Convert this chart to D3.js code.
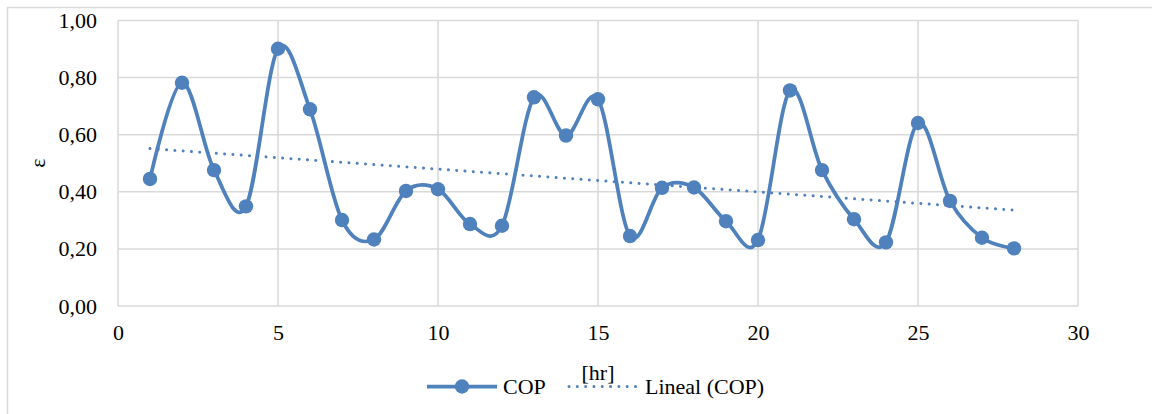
<!DOCTYPE html>
<html>
<head>
<meta charset="utf-8">
<script src="https://cdn.jsdelivr.net/npm/d3@7"></script>
<style>
  html, body { margin: 0; padding: 0; background: #fff; }
  svg { display: block; }
</style>
</head>
<body>
<svg id="chart" width="1152" height="414"></svg>
<script>
// Hourly COP readings (hour 1..28)
const hours = [1,2,3,4,5,6,7,8,9,10,11,12,13,14,15,16,17,18,19,20,21,22,23,24,25,26,27,28];
const cop = [0.445,0.782,0.476,0.349,0.901,0.689,0.301,0.233,0.403,0.409,
             0.287,0.281,0.731,0.597,0.724,0.245,0.414,0.415,0.297,0.231,
             0.755,0.476,0.304,0.223,0.641,0.368,0.239,0.202];
const xTicks = [0,5,10,15,20,25,30];
const yTicks = [0,0.2,0.4,0.6,0.8,1.0];
const seriesName = "COP";
const trendName = "Lineal (COP)";
const xTitle = "[hr]";
const yTitle = "ε";

const blue = "#4f81bd";
const grid = "#d9d9d9";
const serif = '"Liberation Serif", "Times New Roman", Tinos, serif';
const fontSize = "22px";

const svg = d3.select("#chart");

// outer chart frame (only its left and top edges fall inside the view)
svg.append("rect")
  .attr("x", 7.5).attr("y", 7.5)
  .attr("width", 1160).attr("height", 420)
  .attr("fill", "none").attr("stroke", grid).attr("stroke-width", 1.5);

const x = d3.scaleLinear().domain([0, 30]).range([118, 1078]);
const y = d3.scaleLinear().domain([0, 1]).range([306, 20.5]);

const locale = d3.formatLocale({ decimal: ",", thousands: ".", grouping: [3], currency: ["", ""] });
const fmtY = locale.format(".2f");

// gridlines
svg.append("g").selectAll("line").data(yTicks).join("line")
  .attr("x1", x(0)).attr("x2", x(30))
  .attr("y1", d => y(d)).attr("y2", d => y(d))
  .attr("stroke", grid).attr("stroke-width", 1.5);
svg.append("g").selectAll("line").data(xTicks).join("line")
  .attr("x1", d => x(d)).attr("x2", d => x(d))
  .attr("y1", y(0)).attr("y2", y(1))
  .attr("stroke", grid).attr("stroke-width", 1.5);

// axes (labels only, lines come from the grid)
function styleAxis(g) {
  g.attr("font-family", null).attr("font-size", null);
  g.select(".domain").remove();
  g.selectAll("text")
    .style("font-family", serif).style("font-size", fontSize).attr("fill", "#000");
}
const yAxis = d3.axisLeft(y).tickValues(yTicks).tickFormat(fmtY).tickSize(0).tickPadding(21);
svg.append("g").attr("transform", `translate(${x(0)},0)`).call(yAxis).call(styleAxis);

const xAxis = d3.axisBottom(x).tickValues(xTicks).tickFormat(d3.format("d")).tickSize(0).tickPadding(18);
svg.append("g").attr("transform", `translate(0,${y(0)})`).call(xAxis).call(styleAxis);

// axis titles
svg.append("text")
  .attr("transform", `translate(37,163) rotate(-90)`)
  .attr("text-anchor", "middle").attr("dy", "0.35em")
  .style("font-family", serif).style("font-size", fontSize).text(yTitle);
svg.append("text")
  .attr("x", (x(0) + x(30)) / 2).attr("y", 380)
  .attr("text-anchor", "middle")
  .style("font-family", serif).style("font-size", fontSize).text(xTitle);

// linear trendline (least squares)
const n = hours.length;
const mx = d3.mean(hours), my = d3.mean(cop);
const slope = d3.sum(hours, (h, i) => (h - mx) * (cop[i] - my)) / d3.sum(hours, h => (h - mx) ** 2);
const intercept = my - slope * mx;
const trendX = [hours[0], hours[n - 1]];
svg.append("path")
  .datum(trendX)
  .attr("d", d3.line().x(d => x(d)).y(d => y(intercept + slope * d)))
  .attr("fill", "none").attr("stroke", blue).attr("stroke-width", 3)
  .attr("stroke-linecap", "round").attr("stroke-dasharray", "0.01 8.3");

// smoothed COP line
const pts = hours.map((h, i) => [h, cop[i]]);
svg.append("path")
  .datum(pts)
  .attr("d", d3.line().x(d => x(d[0])).y(d => y(d[1])).curve(d3.curveCardinal.tension(0)))
  .attr("fill", "none").attr("stroke", blue).attr("stroke-width", 3.75)
  .attr("stroke-linejoin", "round");

svg.append("g").selectAll("circle").data(pts).join("circle")
  .attr("cx", d => x(d[0])).attr("cy", d => y(d[1])).attr("r", 7.2)
  .attr("fill", blue);

// legend
const ly = 386.5;
const lg = svg.append("g");
lg.append("line").attr("x1", 427).attr("x2", 497).attr("y1", ly).attr("y2", ly)
  .attr("stroke", blue).attr("stroke-width", 3.75);
lg.append("circle").attr("cx", 462).attr("cy", ly).attr("r", 7.2).attr("fill", blue);
lg.append("text").attr("x", 503).attr("y", 394)
  .style("font-family", serif).style("font-size", fontSize).text(seriesName);
lg.append("line").attr("x1", 569).attr("x2", 638).attr("y1", ly).attr("y2", ly)
  .attr("stroke", blue).attr("stroke-width", 3)
  .attr("stroke-linecap", "round").attr("stroke-dasharray", "0.01 8.3");
lg.append("text").attr("x", 645).attr("y", 394)
  .style("font-family", serif).style("font-size", fontSize).text(trendName);
</script>
</body>
</html>
